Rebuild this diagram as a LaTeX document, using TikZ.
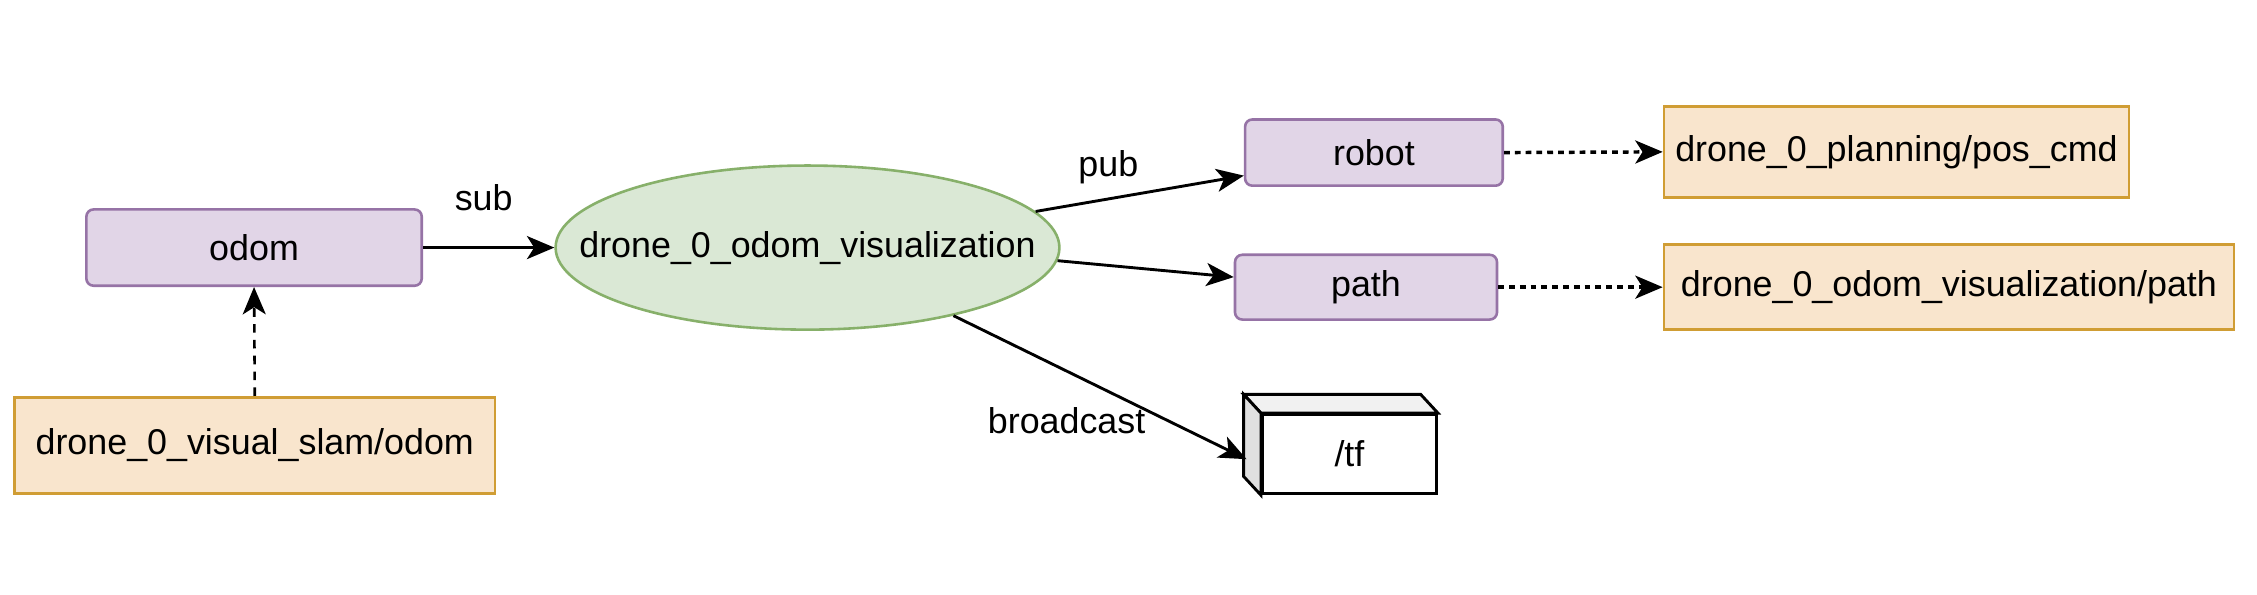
\documentclass[tikz,border=0pt]{standalone}
\usepackage{fontspec}
\setmainfont{Liberation Sans}
\usetikzlibrary{arrows.meta,shapes.geometric}
\definecolor{pfill}{HTML}{E1D5E7}
\definecolor{pdraw}{HTML}{9673A6}
\definecolor{gfill}{HTML}{DAE8D5}
\definecolor{gdraw}{HTML}{87B06A}
\definecolor{ofill}{HTML}{F9E5CD}
\definecolor{odraw}{HTML}{D09D34}
\definecolor{topface}{HTML}{F1F1F1}
\definecolor{leftface}{HTML}{E0E0E0}
\tikzset{
  txt/.style={font=\fontsize{24.9}{30}\selectfont, inner sep=0pt},
  topicbox/.style={txt, draw=pdraw, fill=pfill, line width=1.8pt, rounded corners=5pt, minimum width=#1},
  namebox/.style={txt, draw=odraw, fill=ofill, line width=1.8pt, minimum width=#1},
  nodeell/.style={ellipse, draw=gdraw, fill=gfill, line width=1.8pt, minimum width=350pt, minimum height=114pt, inner sep=0pt},
  conn/.style={line width=2pt, -{Stealth[length=19pt,width=16pt,inset=5pt]}},
  dconn/.style={line width=2.4pt, dash pattern=on 4pt off 3.5pt, -{Stealth[length=19pt,width=16pt,inset=5pt]}},
  vconn/.style={line width=1.8pt, dash pattern=on 6pt off 5pt, -{Stealth[length=19pt,width=16pt,inset=5pt]}},
  lbl/.style={txt}
}
\begin{document}
\begin{tikzpicture}[x=1pt,y=-1pt]
\useasboundingbox (0,0) rectangle (1568,413);
% nodes
\node[topicbox=233pt, minimum height=53pt] (odom) at (176.5,172) {odom};
\node[namebox=334pt, minimum height=67pt] (slam) at (177,309.5) {drone\_0\_visual\_slam/odom};
\node[nodeell, label={[txt]center:drone\_0\_odom\_visualization}] (ell) at (561,172) {};
\node[topicbox=179pt, minimum height=46pt] (robot) at (954.5,106) {robot};
\node[topicbox=182pt, minimum height=45pt] (path) at (949,199.5) {path};
\node[namebox=323pt, minimum height=63pt] (poscmd) at (1317.5,105.5) {drone\_0\_planning/pos\_cmd};
\node[namebox=396pt, minimum height=59pt] (vispath) at (1354,199.5) {drone\_0\_odom\_visualization/path};
% /tf box
\node[txt, draw=black, fill=white, line width=2pt, minimum width=121pt, minimum height=55pt] (tf) at (937.5,315.5) {/tf};
\coordinate (tfa) at ([xshift=-12pt,yshift=13pt]tf.north west);
\coordinate (tfb) at ([xshift=-12pt,yshift=13pt]tf.north east);
\coordinate (tfc) at ([xshift=-12pt,yshift=13pt]tf.south west);
\draw[line width=2pt, fill=topface, line join=miter] (tf.north west) -- (tfa) -- (tfb) -- (tf.north east) -- cycle;
\draw[line width=2pt, fill=leftface, line join=miter] (tf.north west) -- (tfa) -- (tfc) -- (tf.south west) -- cycle;
% labels
\node[lbl] (sublbl) at (336,137) {sub};
\node[lbl] (publbl) at (770,116) {pub};
\node[lbl] (bclbl) at (741,292) {broadcast};
% connectors
\draw[conn] (odom.east) -- (ell.west);
\draw[vconn] (slam.north) -- (odom.south);
\draw[conn] (ell.9.4) -- ([yshift=-16pt]robot.west);
\draw[conn] (ell.-3.6) -- ([yshift=7pt]path.west);
\draw[conn] (ell.-25.4) -- ([xshift=-10pt,yshift=-3.5pt]tf.west);
\draw[dconn] (robot.east) -- (poscmd.west);
\draw[dconn] (path.east) -- (vispath.west);
\end{tikzpicture}
\end{document}
